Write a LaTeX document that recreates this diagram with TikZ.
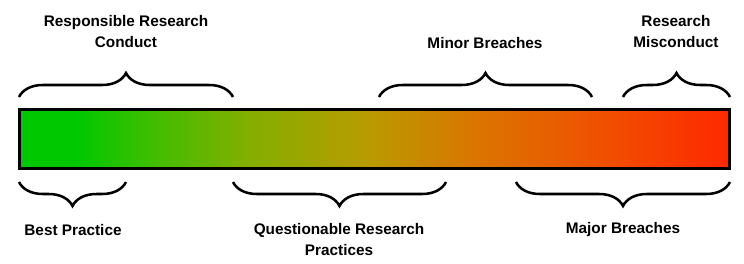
\documentclass[tikz,border=0pt]{standalone}
\usepackage{fontspec}
\setmainfont{Liberation Sans}
\usetikzlibrary{decorations.pathreplacing}

\definecolor{gradA}{RGB}{0,200,0}
\definecolor{gradB}{RGB}{60,190,0}
\definecolor{gradC}{RGB}{130,175,0}
\definecolor{gradD}{RGB}{185,155,0}
\definecolor{gradE}{RGB}{220,115,0}
\definecolor{gradF}{RGB}{240,80,0}
\definecolor{gradG}{RGB}{255,40,0}
\pgfdeclarehorizontalshading{scaleshade}{100bp}{color(0bp)=(gradA); color(29bp)=(gradA);
  color(34bp)=(gradB); color(41bp)=(gradC); color(49.5bp)=(gradD); color(57.5bp)=(gradE);
  color(66bp)=(gradF); color(75bp)=(gradG); color(100bp)=(gradG)}

\begin{document}
\begin{tikzpicture}[x=0.75pt, y=-0.75pt,
    lbl/.style={font=\fontsize{11.5}{15.75}\selectfont\bfseries, align=center, inner sep=0pt},
    bar/.style={draw, line width=2.25pt, shading=scaleshade,
                minimum width=532.5pt, minimum height=44.25pt, inner sep=0pt},
    bracetop/.style={decorate, decoration={brace, amplitude=18pt}, line width=1.9pt},
    bracebot/.style={decorate, decoration={brace, amplitude=18pt, mirror}, line width=1.9pt}]
    \useasboundingbox (0,0) rectangle (744,264);
    \node[bar] (bar) at (374.5,139) {};
    % upper braces
    \coordinate (rrcL) at (19,97);   \coordinate (rrcR) at (233,97);
    \coordinate (minL) at (379,97);  \coordinate (minR) at (592,97);
    \coordinate (misL) at (623,97);  \coordinate (misR) at (730,97);
    % lower braces
    \coordinate (bestL) at (19,182); \coordinate (bestR) at (126,182);
    \coordinate (qrpL) at (233,182); \coordinate (qrpR) at (446,182);
    \coordinate (majL) at (516,182); \coordinate (majR) at (730,182);
    \foreach \a/\b in {rrcL/rrcR, minL/minR, misL/misR}
        \draw[bracetop] (\a) -- (\b);
    \foreach \a/\b in {bestL/bestR, qrpL/qrpR, majL/majR}
        \draw[bracebot] (\a) -- (\b);
    \node[lbl] (rrc)  at (126,31.5) {Responsible Research\\Conduct};
    \node[lbl] (min)  at (485,43)   {Minor Breaches};
    \node[lbl] (mis)  at (676,31.5) {Research\\Misconduct};
    \node[lbl] (best) at (73,230)   {Best Practice};
    \node[lbl] (qrp)  at (339,240)  {Questionable Research\\Practices};
    \node[lbl] (maj)  at (623,230)  {Major Breaches};
\end{tikzpicture}
\end{document}
